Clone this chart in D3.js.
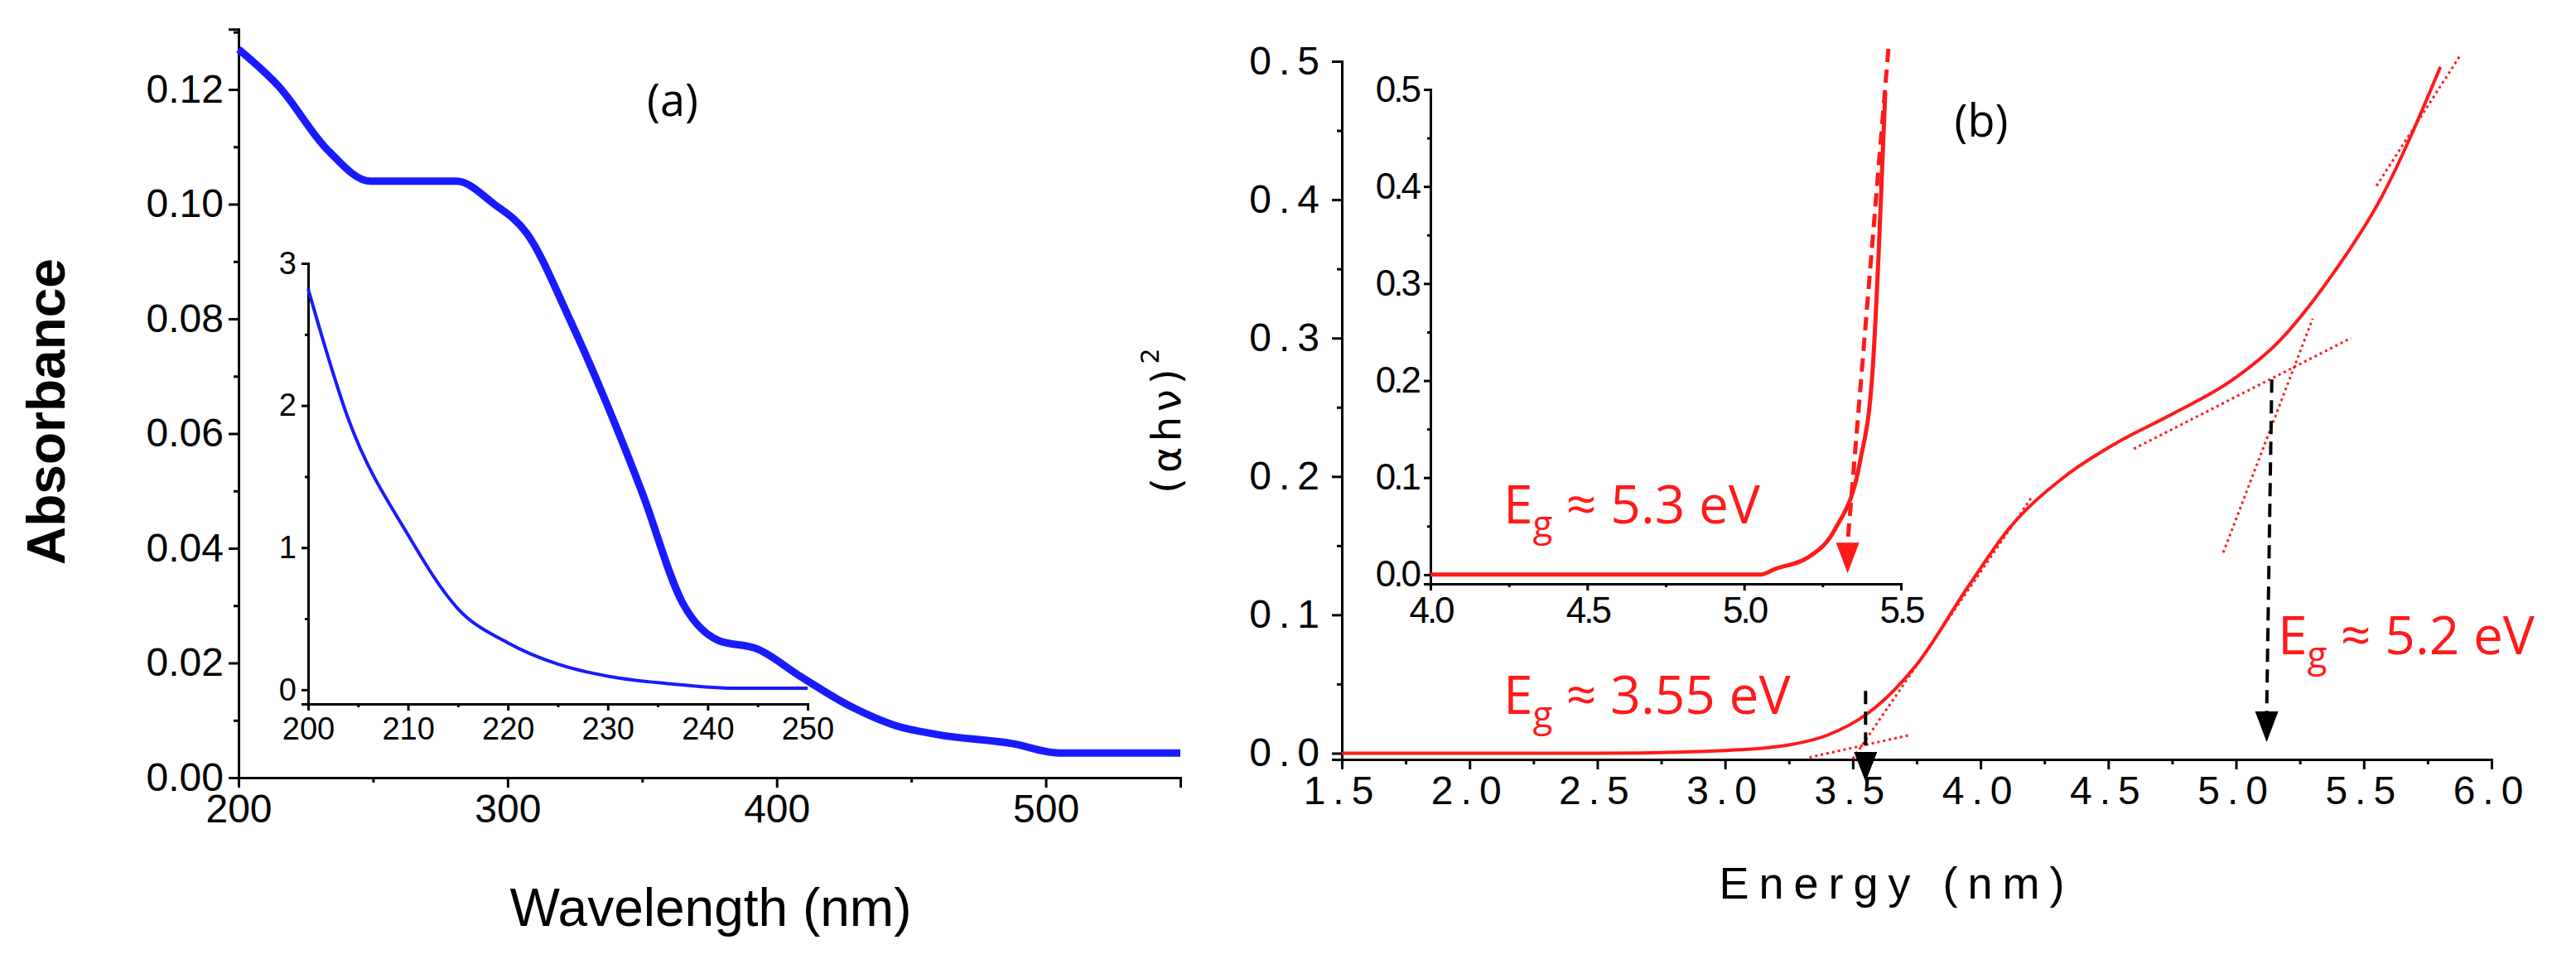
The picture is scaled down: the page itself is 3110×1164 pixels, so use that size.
<!DOCTYPE html>
<html><head><meta charset="utf-8">
<script src="https://cdn.jsdelivr.net/npm/d3@7"></script>
<style>body{margin:0;background:#fff;overflow:hidden}</style>
</head><body>
<svg id="c" width="3110" height="1164"></svg>
<script>
// panel (a) main absorbance curve [wavelength, absorbance]
var absMain = [[200,0.127],[215,0.1205],[233,0.1095],[249,0.104],[281,0.104],[295,0.100],[307,0.095],[323,0.080],[337,0.065],[350,0.0497],[365,0.0305],[378,0.024],[393,0.0224],[409,0.0176],[428,0.0123],[444,0.0091],[460,0.0075],[488,0.0059],[505,0.0043],[550,0.0043]];
// panel (a) inset
var absInset = [[200,2.82],[204,1.91],[210,1.09],[215,0.57],[220,0.33],[225,0.18],[230,0.095],[236,0.043],[242.7,0.01],[250,0.01]];
// panel (b) main (alpha h nu)^2 vs energy
var tauc = [[1.5,0.0],[2.5,0.0],[3.0,0.002],[3.25,0.006],[3.4,0.013],[3.56,0.029],[3.75,0.064],[3.95,0.12],[4.11,0.162],[4.33,0.2],[4.53,0.224],[4.75,0.245],[4.98,0.269],[5.17,0.298],[5.37,0.344],[5.57,0.402],[5.8,0.496]];
// panel (b) inset
var taucInset = [[4.0,0.0],[5.05,0.0],[5.10,0.006],[5.21,0.019],[5.29,0.047],[5.37,0.117],[5.41,0.212],[5.43,0.339],[5.45,0.497]];
// fitted tangent lines [x1,y1,x2,y2]
var fitsB = [[3.33,-0.003,3.72,0.013],[3.5,-0.004,4.2,0.185],[4.95,0.145,5.3,0.314],[4.6,0.22,5.45,0.3],[5.55,0.41,5.88,0.505]];
var ticksAx = [200,300,400,500], ticksAy = [0,0.02,0.04,0.06,0.08,0.10,0.12];
var ticksBx = [1.5,2,2.5,3,3.5,4,4.5,5,5.5,6], ticksBy = [0,0.1,0.2,0.3,0.4,0.5];

var svg = d3.select('#c');
var arial = "'Liberation Sans',Arial,sans-serif";
var cal = "'Open Sans',Lato,sans-serif";

function axes(g, x, y, xt, yt, xminor, yminor, fmtx, fmty, fs, tl) {
	var xa = d3.axisBottom(x).tickValues(xt).tickFormat(fmtx).tickSize(tl).tickPadding(8);
	var ya = d3.axisLeft(y).tickValues(yt).tickFormat(fmty).tickSize(tl).tickPadding(6);
	var gx = g.append('g').attr('transform', 'translate(0,' + y.range()[0] + ')').call(xa);
	var gy = g.append('g').attr('transform', 'translate(' + x.range()[0] + ',0)').call(ya);
	g.append('g').attr('transform', 'translate(0,' + y.range()[0] + ')').call(d3.axisBottom(x).tickValues(xminor).tickFormat('').tickSize(tl/2)).select('.domain').remove();
	g.append('g').attr('transform', 'translate(' + x.range()[0] + ',0)').call(d3.axisLeft(y).tickValues(yminor).tickFormat('').tickSize(tl/2)).select('.domain').remove();
	g.selectAll('.domain,.tick line').attr('stroke', '#000').attr('stroke-width', 3);
	[gx, gy].forEach(a => a.selectAll('text').attr('font-size', fs).attr('font-family', arial).attr('fill', '#000'));
	return [gx, gy];
}

// ---------- panel (a)
var xa = d3.scaleLinear().domain([200, 550]).range([288, 1425]);
var ya = d3.scaleLinear().domain([0, 0.12]).range([939, 108]);
var ga = svg.append('g');
var yaAx = d3.scaleLinear().domain([0, 0.1305]).range([939, ya(0.1305)]);
axes(ga, xa, yaAx, ticksAx, ticksAy, [250,350,450,550], [0.01,0.03,0.05,0.07,0.09,0.11,0.13], d3.format('d'), d3.format('.2f'), 48, 12);
ga.append('path').datum(absMain).attr('fill', 'none').attr('stroke', '#1a1aff').attr('stroke-width', 9)
	.attr('d', d3.line().x(d => xa(d[0])).y(d => ya(d[1])).curve(d3.curveMonotoneX));
ga.append('text').attr('transform', 'translate(78,497) rotate(-90)').attr('text-anchor', 'middle')
	.attr('font-family', arial).attr('font-weight', 'bold').attr('font-size', 64).text('Absorbance');
ga.append('text').attr('x', 858).attr('y', 1118).attr('text-anchor', 'middle')
	.attr('font-family', arial).attr('font-size', 64).text('Wavelength (nm)');
ga.append('text').attr('x', 812).attr('y', 140).attr('text-anchor', 'middle').attr('font-family', cal).attr('font-size', 54).text('(a)');

// inset (a)
var xai = d3.scaleLinear().domain([200, 250]).range([372, 975]);
var yai = d3.scaleLinear().domain([-0.1, 3]).range([850, 318]);
var gai = svg.append('g');
axes(gai, xai, yai, [200,210,220,230,240,250], [0,1,2,3], [205,215,225,235,245], [0.5,1.5,2.5], d3.format('d'), d3.format('d'), 38, 8);
gai.append('path').datum(absInset).attr('fill', 'none').attr('stroke', '#1a1aff').attr('stroke-width', 4)
	.attr('d', d3.line().x(d => xai(d[0])).y(d => yai(d[1])).curve(d3.curveMonotoneX));

// ---------- panel (b)
var xb = d3.scaleLinear().domain([1.5, 6]).range([1620, 3008]);
var yb = d3.scaleLinear().domain([-0.0045, 0.5]).range([917, 74]);
var gb = svg.append('g');
var bAx = axes(gb, xb, yb, ticksBx, ticksBy, [1.75,2.25,2.75,3.25,3.75,4.25,4.75,5.25,5.75], [0.05,0.15,0.25,0.35,0.45], d3.format('.1f'), d3.format('.1f'), 48, 12);
bAx.forEach(a => a.selectAll('text').attr('letter-spacing', 9).attr('font-size', 48));
gb.append('path').datum(tauc).attr('fill', 'none').attr('stroke', '#ff1a1a').attr('stroke-width', 4)
	.attr('d', d3.line().x(d => xb(d[0])).y(d => yb(d[1])).curve(d3.curveMonotoneX));
gb.selectAll('.fit').data(fitsB).enter().append('line')
	.attr('x1', d => xb(d[0])).attr('y1', d => yb(d[1])).attr('x2', d => xb(d[2])).attr('y2', d => yb(d[3]))
	.attr('stroke', '#ff1a1a').attr('stroke-width', 3).attr('stroke-dasharray', '3,4');
function arrow(g, x, y1, y2, col, w, head) {
	g.append('line').attr('x1', x[0]).attr('y1', y1).attr('x2', x[1]).attr('y2', y2 - head)
		.attr('stroke', col).attr('stroke-width', w).attr('stroke-dasharray', '16,9');
	g.append('path').attr('fill', col)
		.attr('d', 'M' + (x[1] - 14) + ',' + (y2 - head) + 'L' + (x[1] + 14) + ',' + (y2 - head) + 'L' + x[1] + ',' + y2 + 'Z');
}
arrow(gb, [xb(5.14), xb(5.12)], yb(0.27), yb(0.008), '#000', 4, 37);
arrow(gb, [xb(3.55), xb(3.55)], yb(0.045), 944, '#000', 4, 36);
gb.append('text').attr('transform', 'translate(1425,505) rotate(-90)').attr('text-anchor', 'middle')
	.attr('font-family', "'DejaVu Sans',sans-serif").attr('font-size', 48).attr('letter-spacing', 6)
	.html('(&#945;h&#957;)<tspan dy="-26" font-size="30">2</tspan>');
gb.append('text').attr('x', 2290).attr('y', 1085).attr('text-anchor', 'middle')
	.attr('font-family', arial).attr('font-size', 54).attr('letter-spacing', 12).text('Energy (nm)');
gb.append('text').attr('x', 2392).attr('y', 165).attr('text-anchor', 'middle').attr('font-family', cal).attr('font-size', 54).text('(b)');
function eg(g, x, y, v) {
	var t = g.append('text').attr('x', x).attr('y', y).attr('font-family', cal).attr('font-size', 64).attr('fill', '#ff1a1a');
	t.append('tspan').text('E');
	t.append('tspan').attr('dy', 16).attr('font-size', 44).text('g');
	t.append('tspan').attr('dy', -16).text(' \u2248 ' + v + ' eV');
}
eg(gb, 1815, 862, '3.55');
eg(gb, 2750, 790, '5.2');

// inset (b)
var xbi = d3.scaleLinear().domain([4, 5.5]).range([1727, 2295]);
var ybi = d3.scaleLinear().domain([-0.0095, 0.5]).range([705, 108]);
var gbi = svg.append('g');
axes(gbi, xbi, ybi, [4,4.5,5,5.5], [0,0.1,0.2,0.3,0.4,0.5], [4.25,4.75,5.25], [0.05,0.15,0.25,0.35,0.45], d3.format('.1f'), d3.format('.1f'), 44, 8);
gbi.selectAll('.tick text').attr('letter-spacing', -3);
gbi.append('path').datum(taucInset).attr('fill', 'none').attr('stroke', '#ff1a1a').attr('stroke-width', 5)
	.attr('d', d3.line().x(d => xbi(d[0])).y(d => ybi(d[1])).curve(d3.curveMonotoneX));
arrow(gbi, [xbi(5.46), xbi(5.33)], 59, ybi(-0.002) - 4, '#ff1a1a', 5, 37);
eg(gbi, 1815, 632, '5.3');
</script>
</body></html>
